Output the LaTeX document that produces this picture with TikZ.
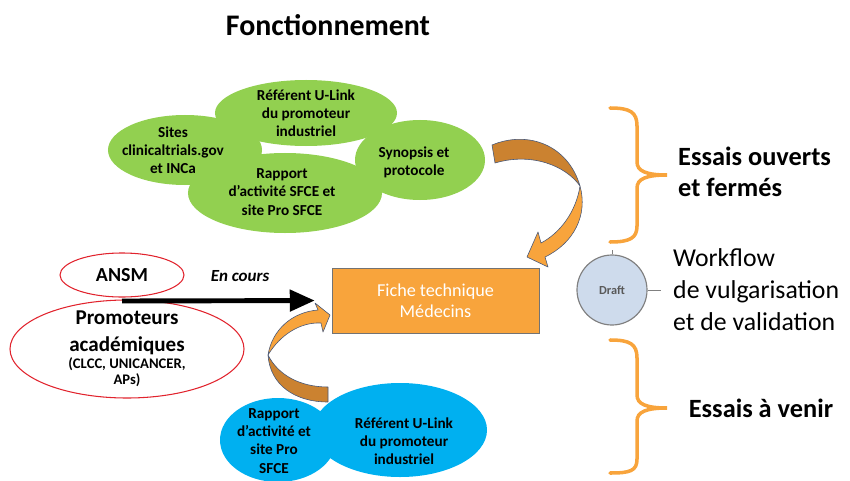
\documentclass[tikz,border=0pt]{standalone}
\usepackage{fontspec}
\setmainfont{Carlito}
\usetikzlibrary{arrows.meta,shapes.geometric}
\definecolor{blobgreen}{RGB}{146,208,80}
\definecolor{blobblue}{RGB}{0,176,240}
\definecolor{ficheorange}{RGB}{248,164,60}
\definecolor{twistbrown}{RGB}{203,130,48}
\definecolor{outlineblue}{RGB}{72,88,120}
\definecolor{draftfill}{RGB}{206,219,236}
\definecolor{blobred}{RGB}{225,35,45}

\begin{document}
\begin{tikzpicture}[
                x=0.03cm, y=-0.03cm,
                GreenBlob/.style={ellipse, fill=blobgreen, inner sep=0pt},
                BlueBlob/.style={ellipse, fill=blobblue, inner sep=0pt},
                RedBlob/.style={ellipse, draw=blobred, line width=0.9pt, inner sep=0pt},
                BlobText/.style={align=center, inner sep=0pt, font=\fontsize{13}{15.5}\selectfont\bfseries},
                CurlArrow/.style={draw=outlineblue, line width=0.5pt, line join=round},
                BraceLine/.style={draw=ficheorange, line width=3pt, line cap=round},
                SideText/.style={align=left, inner sep=0pt, font=\fontsize{22.5}{26.5}\selectfont\bfseries},
            ]
            \useasboundingbox (0,0) rectangle (850,480);
            \node[font=\fontsize{25.5}{30}\selectfont\bfseries] (title) at (328,25) {Fonctionnement};

            % sources of the open and closed trials
            \node[GreenBlob, minimum width=4.62cm, minimum height=2.1cm] (sites) at (185,150) {};
            \node[GreenBlob, minimum width=5.46cm, minimum height=1.98cm] (ulink) at (306,113) {};
            \node[GreenBlob, minimum width=5.82cm, minimum height=2.4cm] (rapport) at (285,193) {};
            \node[GreenBlob, minimum width=3.9cm, minimum height=2.4cm] (synopsis) at (420,160) {};
            \node[BlobText] at (173,150) {Sites\\clinicaltrials.gov\\et INCa};
            \node[BlobText] at (ulink) {Référent U-Link\\du promoteur\\industriel};
            \node[BlobText] at (282,192) {Rapport\\d’activité SFCE et\\site Pro SFCE};
            \node[BlobText] at (414,162) {Synopsis et\\protocole};

            % sources of the future trials
            \node[BlueBlob, minimum width=5.22cm, minimum height=2.82cm] (ulinkb) at (400,430) {};
            \node[BlueBlob, minimum width=3.48cm, minimum height=2.52cm] (rapportb) at (278,440) {};
            \node[BlobText] at (274,441) {Rapport\\d’activité et\\site Pro\\SFCE};
            \node[BlobText] at (404,441) {Référent U-Link\\du promoteur\\industriel};

            \node[RedBlob, minimum width=3.72cm, minimum height=1.32cm] (ansm) at (122,275) {};
            \node[RedBlob, minimum width=7.02cm, minimum height=2.94cm] (promo) at (127,349) {};
            \node[inner sep=0pt, font=\fontsize{17}{20}\selectfont\bfseries] at (ansm) {ANSM};
            \node[align=center, inner sep=0pt, font=\fontsize{18}{23}\selectfont\bfseries] (promotxt) at (127,333) {Promoteurs\\académiques};
            \node[align=center, inner sep=0pt, font=\fontsize{12.5}{13.5}\selectfont\bfseries] (promosub) at (127,372) {(CLCC, UNICANCER,\\APs)};

            \node[draw=black!55, fill=ficheorange, minimum width=6.21cm, minimum height=1.95cm, text=white, align=center,
                  font=\fontsize{15.5}{18}\selectfont] (fiche) at (435.5,300.5) {Fiche technique\\Médecins};

            \coordinate (enc) at (122,301);
            \draw[line width=4.2pt, -{Triangle[length=0.75cm, width=0.63cm]}, shorten >=0.51cm] (enc) -- (fiche.west);
            \node[font=\fontsize{14.5}{17}\selectfont\bfseries\itshape] (cours) at (240,276) {En cours};

            % curled arrows into the sheet
            \filldraw[CurlArrow, fill=twistbrown] (492,145) .. controls (528,130) and (568,145) .. (580,186)
                .. controls (566,166) and (532,152) .. (495,163) -- cycle;
            \filldraw[CurlArrow, fill=ficheorange] (580,186) .. controls (588,215) and (574,243) .. (545,257)
                -- (548,267) -- (527,257) -- (538,232) -- (541,243) .. controls (560,233) and (576,212) .. (580,186) -- cycle;
            \filldraw[CurlArrow, fill=twistbrown] (268,355) .. controls (270,385) and (295,402) .. (328,402)
                -- (328,387) .. controls (300,387) and (278,375) .. (268,355) -- cycle;
            \filldraw[CurlArrow, fill=ficheorange] (268,355) .. controls (272,330) and (292,312) .. (318,310)
                -- (315,303) -- (330,315) -- (323,332) -- (321,323) .. controls (300,322) and (280,335) .. (268,355) -- cycle;

            \node[circle, draw=black!50, fill=draftfill, line width=1pt, minimum size=2.1cm, inner sep=0pt,
                  text=black!65, font=\fontsize{10.5}{12}\selectfont\bfseries] (draft) at (612,290) {Draft};
            \node[anchor=west, align=left, inner sep=0pt, font=\fontsize{22}{27.3}\selectfont] (wf) at (673,290) {Workflow\\de vulgarisation\\et de validation};
            \draw[black!50, line width=0.8pt] (draft.east) -- (wf.west) [shorten >=0.36cm];
            \draw[black!50, line width=0.8pt] (draft.north) -- ++(0,-4);

            % braces
            \draw[BraceLine] (610,108) .. controls (630,108) and (637,112) .. (637,126) -- (637,162)
                .. controls (637,171) and (646,175) .. (667,175) .. controls (646,175) and (637,179) .. (637,188)
                -- (637,226) .. controls (637,238) and (630,242) .. (610,242);
            \draw[BraceLine] (610,340) .. controls (630,340) and (637,344) .. (637,358) -- (637,395)
                .. controls (637,404) and (646,408) .. (667,408) .. controls (646,408) and (637,412) .. (637,421)
                -- (637,459) .. controls (637,471) and (630,473) .. (610,473);
            \node[SideText, anchor=west] (open) at (678,172) {Essais ouverts\\et fermés};
            \node[SideText] (future) at (761,408) {Essais à venir};
        \end{tikzpicture}
\end{document}
